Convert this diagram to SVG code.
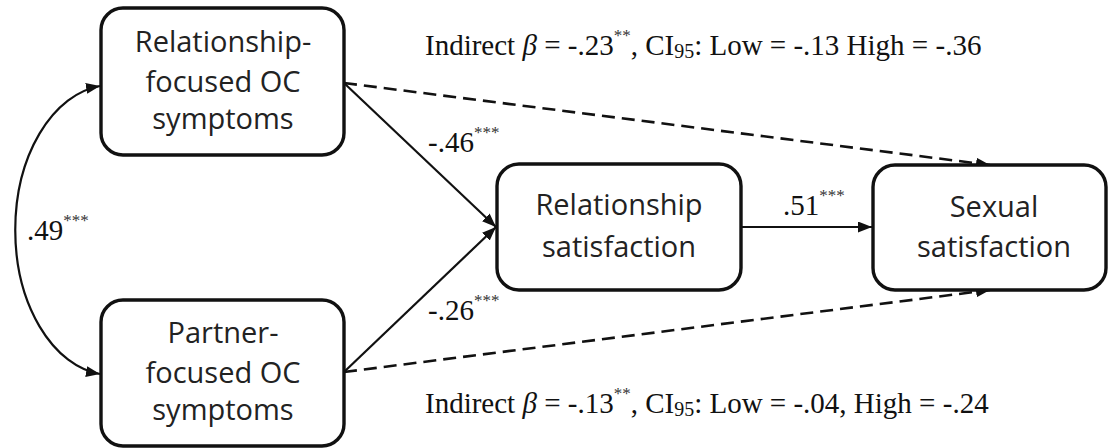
<svg xmlns="http://www.w3.org/2000/svg" width="1108" height="448" viewBox="0 0 1108 448">
<style>
.box{fill:#fff;stroke:#111;stroke-width:3.4}
.nt{font-family:"Open Sans","Noto Sans",sans-serif;font-size:29px;fill:#222;text-anchor:middle}
.lb{font-family:"Liberation Serif","Times New Roman",serif;font-size:29px;fill:#111}
.sup{font-size:17px;fill:#333}
.sub{font-size:20px}
.ln{fill:none;stroke:#111;stroke-width:2.2}
.dash{fill:none;stroke:#111;stroke-width:2.6;stroke-dasharray:13 7}
</style>
<defs>
<marker id="ah" viewBox="0 0 14 11" refX="14" refY="5.5" markerWidth="14" markerHeight="11" markerUnits="userSpaceOnUse" orient="auto-start-reverse">
<path d="M0,0 L14,5.5 L0,11 z" fill="#111"/>
</marker>
</defs>
<g id="connectors">
<path class="ln" d="M100,86 A96 145 0 0 0 100,374" marker-start="url(#ah)" marker-end="url(#ah)"/>
<line class="ln" x1="344" y1="83" x2="496" y2="227" marker-end="url(#ah)"/>
<line class="ln" x1="344" y1="372" x2="496" y2="227" marker-end="url(#ah)"/>
<line class="ln" x1="741" y1="227" x2="872" y2="227" marker-end="url(#ah)"/>
<line class="dash" x1="344" y1="83" x2="990" y2="165" marker-end="url(#ah)"/>
<line class="dash" x1="344" y1="372" x2="990" y2="290" marker-end="url(#ah)"/>
</g>
<g id="node-rel-oc">
<rect class="box" x="101" y="8" width="243" height="147" rx="22"/>
<text class="nt" x="223" y="52">Relationship-</text>
<text class="nt" x="223" y="92">focused OC</text>
<text class="nt" x="223" y="129">symptoms</text>
</g>
<g id="node-partner-oc">
<rect class="box" x="101" y="300" width="243" height="146" rx="22"/>
<text class="nt" x="223" y="343">Partner-</text>
<text class="nt" x="223" y="383">focused OC</text>
<text class="nt" x="223" y="420">symptoms</text>
</g>
<g id="node-rel-sat">
<rect class="box" x="497" y="164" width="244" height="126" rx="22"/>
<text class="nt" x="619" y="215">Relationship</text>
<text class="nt" x="619" y="257">satisfaction</text>
</g>
<g id="node-sex-sat">
<rect class="box" x="873" y="165" width="233" height="125" rx="22"/>
<text class="nt" x="994" y="217">Sexual</text>
<text class="nt" x="994" y="257">satisfaction</text>
</g>
<g id="labels">
<text class="lb" x="425" y="55">Indirect <tspan font-style="italic">β</tspan> = -.23<tspan class="sup" dy="-14">**</tspan><tspan dy="14">, CI</tspan><tspan class="sub" dy="3">95</tspan><tspan dy="-3">: Low = -.13 High = -.36</tspan></text>
<text class="lb" x="425" y="413">Indirect <tspan font-style="italic">β</tspan> = -.13<tspan class="sup" dy="-14">**</tspan><tspan dy="14">, CI</tspan><tspan class="sub" dy="3">95</tspan><tspan dy="-3">: Low = -.04, High = -.24</tspan></text>
<text class="lb" x="27" y="240">.49<tspan class="sup" dy="-14">***</tspan></text>
<text class="lb" x="428" y="152">-.46<tspan class="sup" dy="-14">***</tspan></text>
<text class="lb" x="428" y="320">-.26<tspan class="sup" dy="-14">***</tspan></text>
<text class="lb" x="783" y="215">.51<tspan class="sup" dy="-14">***</tspan></text>
</g>
</svg>
